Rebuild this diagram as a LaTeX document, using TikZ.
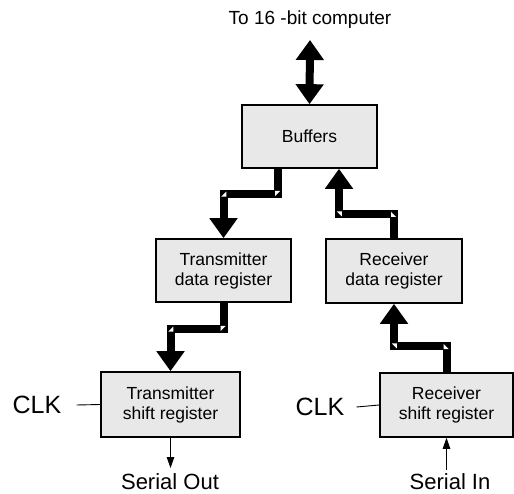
\documentclass[tikz,border=0pt]{standalone}
\usepackage{fontspec}
\setmainfont{Liberation Sans}
\usetikzlibrary{arrows.meta,calc}
\tikzset{
  blk/.style={draw=black, line width=1.6pt, fill=black!9, minimum width=135pt, minimum height=63pt, align=center, font=\fontsize{17.5}{20}\selectfont, inner sep=0pt},
  bus/.style={line width=8pt, line join=miter, -{Triangle[width=27pt,length=20pt]}},
  dbus/.style={line width=8pt, {Triangle[width=27pt,length=20pt]}-{Triangle[width=27pt,length=20pt]}},
  thinln/.style={line width=0.9pt},
  sig/.style={line width=0.9pt, -{Triangle[length=11pt,width=7.5pt]}},
  lbl/.style={font=\fontsize{22}{24}\selectfont, inner sep=0pt},
}
\newcommand{\notch}[3]{\fill[white] ($(#1)+(#2*2.8,#3*2.8)$) -- ++(-#2*5,0) -- ++(#2*5,-#3*5) -- cycle;}
\begin{document}
\begin{tikzpicture}[x=1pt,y=-1pt]
\useasboundingbox (0,0) rectangle (514,494);
\node[font=\fontsize{19}{22}\selectfont, inner sep=0pt] (title) at (310,20) {To 16 -bit computer};
\coordinate (ttop) at (310,40);
\node[blk] (buf) at (309.5,136.5) {Buffers};
\node[blk] (tdr) at (223.5,270.5) {Transmitter\\data register};
\node[blk, minimum width=136pt, minimum height=64pt] (rdr) at (394,271) {Receiver\\data register};
\node[blk, minimum width=139pt, minimum height=65pt] (tsr) at (170.5,404.5) {Transmitter\\shift register};
\node[blk, minimum width=133pt, minimum height=64pt] (rsr) at (446.5,405) {Receiver\\shift register};
\node[lbl, font=\fontsize{25}{28}\selectfont] (clkL) at (37,405) {CLK};
\node[lbl, font=\fontsize{25}{28}\selectfont] (clkR) at (320,407) {CLK};
\node[lbl] (sout) at (170,482) {Serial Out};
\node[lbl] (sin) at (450,482) {Serial In};
\coordinate (soutend) at (tsr.south |- 0,468);
\coordinate (sinstart) at (rsr.south |- 0,470);
% buses
\draw[dbus] (ttop) -- (buf.north);
\draw[bus] ([xshift=-31.5pt]buf.south) -- ++(0,25) coordinate (c1) -| (tdr.north);
\coordinate (c2) at (tdr.north |- c1);
\draw[bus] (tdr.south) -- ++(0,26) coordinate (d1) -| (tsr.north);
\coordinate (d2) at (tsr.north |- d1);
\draw[bus] (rsr.north) -- ++(0,-26) coordinate (e1) -| (rdr.south);
\coordinate (e2) at (rdr.south |- e1);
\draw[bus] (rdr.north) -- ++(0,-24) coordinate (f1) -| ([xshift=29.5pt]buf.south);
\coordinate (f2) at ([xshift=29.5pt]buf.south |- f1);
% corner highlights
\notch{c1}{-1}{-1}\notch{c2}{1}{1}
\notch{d1}{-1}{-1}\notch{d2}{1}{1}
\notch{e1}{-1}{1}\notch{e2}{1}{-1}
\notch{f1}{-1}{1}\notch{f2}{1}{-1}
% thin lines
\draw[thinln] ([xshift=15pt]clkL.east) -- (tsr.west);
\draw[thinln] ([xshift=12pt]clkR.east) -- (rsr.west);
\draw[sig] (tsr.south) -- (soutend);
\draw[sig] (sinstart) -- (rsr.south);
\end{tikzpicture}
\end{document}
